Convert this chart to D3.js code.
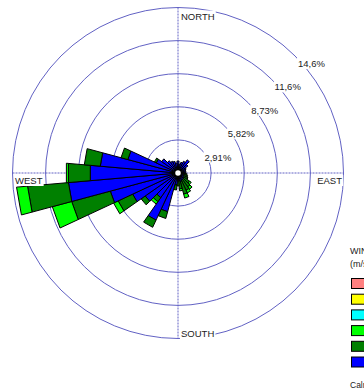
<!DOCTYPE html>
<html>
<head>
<meta charset="utf-8">
<script src="https://cdn.jsdelivr.net/npm/d3@7"></script>
<style>
  html, body { margin: 0; padding: 0; background: #fff; }
  svg { display: block; }
  text { font-family: "Liberation Sans", Arial, sans-serif; fill: #222; }
</style>
</head>
<body>
<div id="chart"></div>
<script>
// ---- Data (frequency %, per 10° direction, clockwise from North) ----
const directions = [0,10,20,30,40,50,60,70,80,90,100,110,120,130,140,150,160,170,
                    180,190,200,210,220,230,240,250,260,270,280,290,300,310,320,330,340,350];
// speed class 0.5 - 2.1 m/s (blue)
const class1 = [1.06,0.79,0.97,1.14,1.41,1.06,0.79,0.70,0.70,0.70,0.62,0.53,0.53,0.62,0.70,0.70,0.79,0.70,
                0.70,1.06,3.52,4.57,2.64,3.52,4.40,6.16,9.67,7.74,6.86,4.57,2.11,1.76,1.32,1.14,1.06,0.88];
// speed class 2.1 - 3.6 m/s (dark green)
const class2 = [0,0,0,0,0,0,0,0,0,0,0.18,0.35,0.44,0.62,0.79,0.97,1.14,0.70,
                0.44,0.44,0.62,0.70,0.44,0.44,1.41,3.52,3.61,1.93,1.41,0.62,0.18,0,0,0,0,0];
// speed class 3.6 - 5.7 m/s (lime)
const class3 = [0,0,0,0,0,0,0,0,0,0,0,0,0,0.18,0.26,0.26,0.35,0.18,
                0,0,0,0,0.26,0,0.44,1.76,0.97,0.18,0,0,0,0,0,0,0,0];
const classes = [class1, class2, class3];
const classColors = ["#0000ff", "#008000", "#00ff00"];

const ringValues = [2.91, 5.82, 8.73, 11.64, 14.55];
const ringLabels = ["2,91%", "5,82%", "8,73%", "11,6%", "14,6%"];
const compass = ["NORTH", "EAST", "SOUTH", "WEST"];

const legendTitle = ["WIND SPEED", "(m/s)"];
const legendColors = ["#ff8080", "#ffff00", "#00ffff", "#00ff00", "#008000", "#0000ff"];
const calmsLabel = "Calms: 0.64%";

// ---- Layout ----
const W = 364, H = 391;
const cx = 178, cy = 173;
const R = 165.5;

const svg = d3.select("#chart").append("svg").attr("width", W).attr("height", H);

const r = d3.scaleLinear().domain([0, ringValues[ringValues.length - 1]]).range([0, R]);
const pt = (rad, deg) => {
  const a = deg * Math.PI / 180;
  return [cx + rad * Math.sin(a), cy - rad * Math.cos(a)];
};

const gridColor = "#6262c4";

// rings
svg.append("g").selectAll("circle").data(ringValues).join("circle")
  .attr("cx", cx).attr("cy", cy).attr("r", d => r(d))
  .attr("fill", "none").attr("stroke", gridColor).attr("stroke-width", 1);

// axes
svg.append("line").attr("x1", cx).attr("x2", cx).attr("y1", cy - R).attr("y2", cy + R)
  .attr("stroke", gridColor).attr("stroke-width", 1).attr("stroke-dasharray", "2,1");
svg.append("line").attr("y1", cy).attr("y2", cy).attr("x1", cx - R).attr("x2", cx + R)
  .attr("stroke", gridColor).attr("stroke-width", 1).attr("stroke-dasharray", "2,1");

// petals
const segs = [];
directions.forEach((dir, i) => {
  let acc = 0;
  classes.forEach((cls, k) => {
    const v = cls[i];
    if (v > 0) {
      segs.push({dir, r0: acc, r1: acc + v, color: classColors[k]});
      acc += v;
    }
  });
});
const line = d3.line().curve(d3.curveLinearClosed);
svg.append("g").selectAll("path").data(segs).join("path")
  .attr("d", s => {
    const pts = s.r0 === 0
      ? [[cx, cy], pt(r(s.r1), s.dir - 5), pt(r(s.r1), s.dir + 5)]
      : [pt(r(s.r0), s.dir - 5), pt(r(s.r1), s.dir - 5), pt(r(s.r1), s.dir + 5), pt(r(s.r0), s.dir + 5)];
    return line(pts);
  })
  .attr("fill", s => s.color)
  .attr("stroke", "#000").attr("stroke-width", 1).attr("stroke-linejoin", "miter");

// calm circle
svg.append("circle").attr("cx", cx).attr("cy", cy).attr("r", 3.5)
  .attr("fill", "#fff").attr("stroke", "#000").attr("stroke-width", 1.5);

// labels with white background
function label(txt, x, y, anchor, size) {
  const g = svg.append("g");
  const t = g.append("text").attr("x", x).attr("y", y).attr("text-anchor", anchor)
    .attr("font-size", size).text(txt);
  const bb = t.node().getBBox();
  g.insert("rect", "text").attr("x", bb.x - 1).attr("y", bb.y).attr("width", bb.width + 2)
    .attr("height", bb.height).attr("fill", "#fff");
}

ringValues.forEach((v, i) => {
  const p = pt(r(v), 45);
  label(ringLabels[i], p[0] + 3, p[1] + 11, "start", "9.5px");
});

label(compass[0], cx + 3, cy - R + 12, "start", "9.5px");
label(compass[1], cx + R - 1.5, cy + 11, "end", "9.5px");
label(compass[2], cx + 3, cy + R - 1.5, "start", "9.5px");
label(compass[3], cx - R + 2.5, cy + 11, "start", "9.5px");

// legend (partly outside the picture, as in the reference)
const lx = 350;
svg.append("text").attr("x", lx).attr("y", 254).attr("font-size", "9px").text(legendTitle[0]);
svg.append("text").attr("x", lx).attr("y", 267).attr("font-size", "9px").text(legendTitle[1]);
svg.append("g").selectAll("rect").data(legendColors).join("rect")
  .attr("x", lx + 1.5).attr("y", (d, i) => 278.5 + i * 15.7)
  .attr("width", 20).attr("height", 10)
  .attr("fill", d => d).attr("stroke", "#000").attr("stroke-width", 1);
svg.append("text").attr("x", lx).attr("y", 387.5).attr("font-size", "8.5px").text(calmsLabel);
</script>
</body>
</html>
